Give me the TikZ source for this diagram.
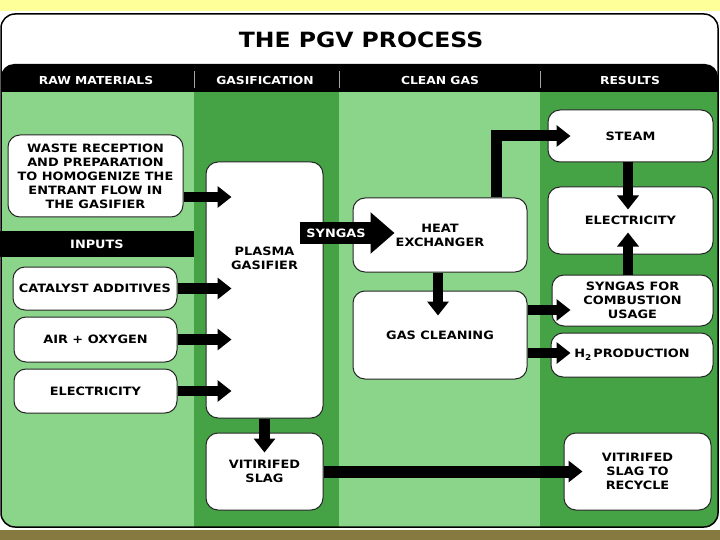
\documentclass[tikz,border=0pt]{standalone}
\usepackage{fontspec}
\setmainfont{DejaVu Sans}[FakeStretch=1.12]
\usetikzlibrary{arrows.meta}
\definecolor{lightg}{HTML}{8BD58A}
\definecolor{darkg}{HTML}{45A346}
\definecolor{paleyel}{HTML}{FFFF99}
\definecolor{olivebar}{HTML}{867A40}
\newcommand\bxfont{\fontsize{11.5}{14}\selectfont\bfseries}
\newcommand\hdfont{\fontsize{11}{13}\selectfont\bfseries}
\begin{document}
\begin{tikzpicture}[x=1pt,y=-1pt,
  box/.style={draw=black!85, fill=white, line width=1pt, rounded corners=12pt, align=center, inner sep=0pt, font=\bxfont},
  band/.style={fill=black, text=white, inner sep=0pt, font=\bxfont},
  hdr/.style={text=white, font=\hdfont, inner sep=0pt},
  blk/.style={draw=black, line width=10.5pt, -{Triangle[length=14pt,width=21pt]}}]
\useasboundingbox (0,0) rectangle (720,540);
\fill[white] (0,0) rectangle (720,540);
\fill[paleyel] (0,0) rectangle (720,11);
\fill[olivebar] (0,530) rectangle (720,540);
% frame contents
\fill[white, rounded corners=14pt] (1,14) rectangle (718,527);
\begin{scope}
  \clip[rounded corners=14pt] (1,14) rectangle (718,527);
  \fill[lightg] (0,92) rectangle (194,530);
  \fill[darkg] (194,92) rectangle (339,530);
  \fill[lightg] (339,92) rectangle (540,530);
  \fill[darkg] (540,92) rectangle (720,530);
\end{scope}
\fill[black] (1,92) [rounded corners=13pt] -- (1,64) -- (718,64) [sharp corners] -- (718,92) -- cycle;
\draw[black, line width=1.5pt, rounded corners=14pt] (1,14) rectangle (718,527);
\foreach \xx in {194,339,540} \draw[gray!70, line width=0.8pt] (\xx,71) -- (\xx,88);
% title and headers
\node[font=\fontsize{21}{24}\selectfont\bfseries, inner sep=0pt] (title) at (361,40) {THE PGV PROCESS};
\node[hdr] (h1) at (96,80) {RAW MATERIALS};
\node[hdr] (h2) at (265,80) {GASIFICATION};
\node[hdr] (h3) at (440,80) {CLEAN GAS};
\node[hdr] (h4) at (630,80) {RESULTS};
% raw materials
\node[box, minimum width=175pt, minimum height=82pt] (waste) at (95.5,176) {WASTE RECEPTION\\AND PREPARATION\\TO HOMOGENIZE THE\\ENTRANT FLOW IN\\THE GASIFIER};
\node[band, minimum width=194pt, minimum height=26pt] (inputs) at (97,244) {INPUTS};
\node[box, minimum width=164pt, minimum height=43pt] (cat) at (95,288.5) {CATALYST ADDITIVES};
\node[box, minimum width=163pt, minimum height=45pt] (air) at (95.5,339.5) {AIR + OXYGEN};
\node[box, minimum width=163pt, minimum height=44pt] (elin) at (95.5,391) {ELECTRICITY};
% gasification
\node[box, minimum width=117pt, minimum height=256pt, label={[font=\bxfont, align=center, yshift=31.5pt]center:PLASMA\\GASIFIER}] (plasma) at (264.5,290) {};
\node[box, minimum width=117pt, minimum height=77pt] (slag) at (264.5,471.5) {VITIRIFED\\SLAG};
% clean gas
\node[box, minimum width=174pt, minimum height=74pt] (heat) at (440,235) {HEAT\\EXCHANGER};
\node[box, minimum width=174pt, minimum height=88pt] (clean) at (440,335) {GAS CLEANING};
% results
\node[box, minimum width=165pt, minimum height=52pt] (steam) at (630.5,136) {STEAM};
\node[box, minimum width=165pt, minimum height=67pt] (elout) at (630.5,220.5) {ELECTRICITY};
\node[box, minimum width=161pt, minimum height=51pt] (comb) at (632.5,300.5) {SYNGAS FOR\\COMBUSTION\\USAGE};
\node[box, minimum width=162pt, minimum height=44pt] (htwo) at (632,355) {H\raisebox{-3pt}{\fontsize{8}{8}\selectfont 2}\,PRODUCTION};
\node[box, minimum width=147pt, minimum height=77pt] (recycle) at (637.5,471.5) {VITIRIFED\\SLAG TO\\RECYCLE};
% syngas band arrow
\coordinate (synstart) at (300,233);
\draw[draw=black, line width=22pt, -{Triangle[length=24pt,width=40pt]}, shorten >=-42pt] (synstart) -- (synstart -| heat.west);
\node[band, fill=none, inner sep=0pt] (syn) at (336,233) {SYNGAS};
% arrows
\draw[blk, shorten >=-26pt] ([yshift=-21pt]waste.east) -- ([yshift=-21pt]waste.east -| plasma.west);
\draw[blk, shorten >=-26pt] (cat.east) -- (cat.east -| plasma.west);
\draw[blk, shorten >=-26pt] (air.east) -- (air.east -| plasma.west);
\draw[blk, shorten >=-26pt] (elin.east) -- (elin.east -| plasma.west);
\draw[blk, shorten >=-20pt] (plasma.south) -- (slag.north);
\draw[blk, line width=12pt, shorten >=-19pt] (slag.east) -- (slag.east -| recycle.west);
\draw[blk, line width=11pt, shorten >=-23pt] ([xshift=56pt]heat.north) |- (steam.west);
\draw[blk, shorten >=-25pt] ([xshift=-2pt]heat.south) -- ([xshift=-2pt]clean.north);
\draw[blk, shorten >=-23pt] ([xshift=-2.5pt]steam.south) -- ([xshift=-2.5pt]elout.north);
\draw[blk, shorten >=-22pt] ([xshift=-4.5pt]comb.north) -- ([xshift=-2.5pt]elout.south);
\draw[blk, shorten >=-19pt] ([yshift=25pt]clean.east) -- ([yshift=25pt]clean.east -| comb.west);
\draw[blk, shorten >=-20pt] ([yshift=-18pt]clean.east) -- ([yshift=-18pt]clean.east -| htwo.west);
\end{tikzpicture}
\end{document}
